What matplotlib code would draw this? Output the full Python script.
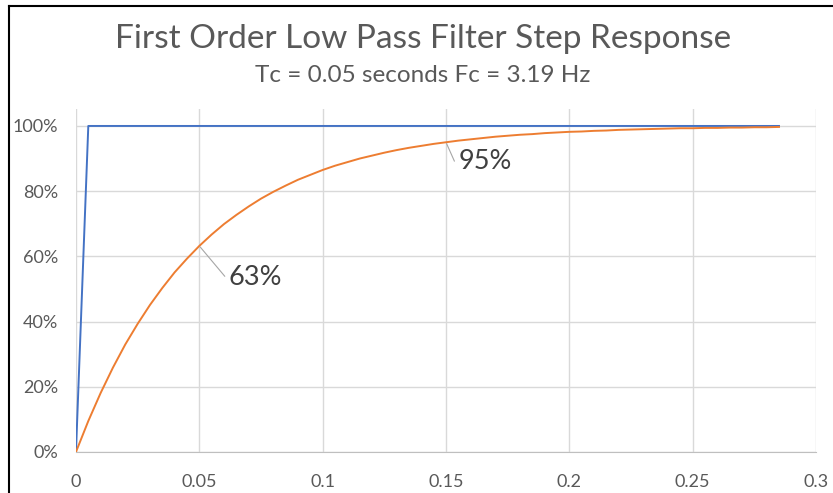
import matplotlib.pyplot as plt
from matplotlib.lines import Line2D
from matplotlib.ticker import PercentFormatter

plt.rcParams['font.family'] = ['Lato', 'DejaVu Sans']

# step input (blue)
step_t = [0, 0.005, 0.285]
step_v = [0, 1.0, 1.0]

# filter output (orange), sampled every 5 ms
filt_t = [0, 0.005, 0.01, 0.015, 0.02, 0.025, 0.03, 0.035, 0.04, 0.045,
          0.05, 0.055, 0.06, 0.065, 0.07, 0.075, 0.08, 0.085, 0.09, 0.095,
          0.1, 0.105, 0.11, 0.115, 0.12, 0.125, 0.13, 0.135, 0.14, 0.145,
          0.15, 0.155, 0.16, 0.165, 0.17, 0.175, 0.18, 0.185, 0.19, 0.195,
          0.2, 0.205, 0.21, 0.215, 0.22, 0.225, 0.23, 0.235, 0.24, 0.245,
          0.25, 0.255, 0.26, 0.265, 0.27, 0.275, 0.28, 0.285]
filt_v = [0, 0.095, 0.181, 0.259, 0.330, 0.393, 0.451, 0.503, 0.551, 0.593,
          0.632, 0.667, 0.699, 0.727, 0.753, 0.777, 0.798, 0.817, 0.835, 0.850,
          0.865, 0.878, 0.889, 0.900, 0.909, 0.918, 0.926, 0.933, 0.939, 0.945,
          0.950, 0.955, 0.959, 0.963, 0.967, 0.970, 0.973, 0.975, 0.978, 0.980,
          0.982, 0.983, 0.985, 0.986, 0.988, 0.989, 0.990, 0.991, 0.992, 0.993,
          0.993, 0.994, 0.994, 0.995, 0.995, 0.996, 0.996, 0.997]

x_ticks = [0, 0.05, 0.1, 0.15, 0.2, 0.25, 0.3]
x_labels = ['0', '0.05', '0.1', '0.15', '0.2', '0.25', '0.3']
y_ticks = [0, 0.2, 0.4, 0.6, 0.8, 1.0]

# labelled points: (index into filt arrays, text)
callouts = [(10, '63%'), (30, '95%')]

fig = plt.figure(figsize=(8.33, 4.93), dpi=100)
ax = fig.add_axes([0.0912, 0.0832, 0.8884, 0.6957])

ax.plot(step_t, step_v, color='#4472C4', lw=1.4, zorder=3)
ax.plot(filt_t, filt_v, color='#ED7D31', lw=1.4, zorder=3)

ax.set_xlim(0, 0.3)
ax.set_ylim(0, 1.052)
ax.set_xticks(x_ticks)
ax.set_xticklabels(x_labels)
ax.set_yticks(y_ticks)
ax.yaxis.set_major_formatter(PercentFormatter(1.0, decimals=0))
ax.grid(color='#D9D9D9', lw=1)
ax.set_axisbelow(True)
for s in ['top', 'right', 'left']:
    ax.spines[s].set_visible(False)
ax.spines['bottom'].set_color('#BFBFBF')
ax.tick_params(length=0, labelsize=13, colors='#595959')
ax.tick_params(axis='x', pad=16)
ax.tick_params(axis='y', pad=13)

# leader lines + labels, offsets in points; angle of the slanted part per label
offsets = {'63%': (21, -23, -50), '95%': (9, -14, -66)}
for i, txt in callouts:
    dx, dy, ang = offsets[txt]
    ax.annotate(txt, xy=(filt_t[i], filt_v[i]), xytext=(dx, dy), textcoords='offset points',
                fontsize=19.5, color='#404040', ha='left', va='center',
                arrowprops=dict(arrowstyle='-', color='#A6A6A6', lw=0.8,
                                connectionstyle=f'angle,angleA=0,angleB={ang},rad=0',
                                shrinkA=1, shrinkB=1))

fig.text(0.508, 0.921, 'First Order Low Pass Filter Step Response', ha='center', va='center',
         fontsize=24, color='#595959')
fig.text(0.508, 0.846, 'Tc = 0.05 seconds Fc = 3.19 Hz', ha='center', va='center',
         fontsize=17.5, color='#595959')

# frame around the chart (top and left edges visible)
fig.add_artist(Line2D([0.0108, 1.0], [0.9878, 0.9878], transform=fig.transFigure, color='black', lw=1.5))
fig.add_artist(Line2D([0.0108, 0.0108], [0.0, 0.9878], transform=fig.transFigure, color='black', lw=1.5))

fig.savefig('out.png', dpi=100)
